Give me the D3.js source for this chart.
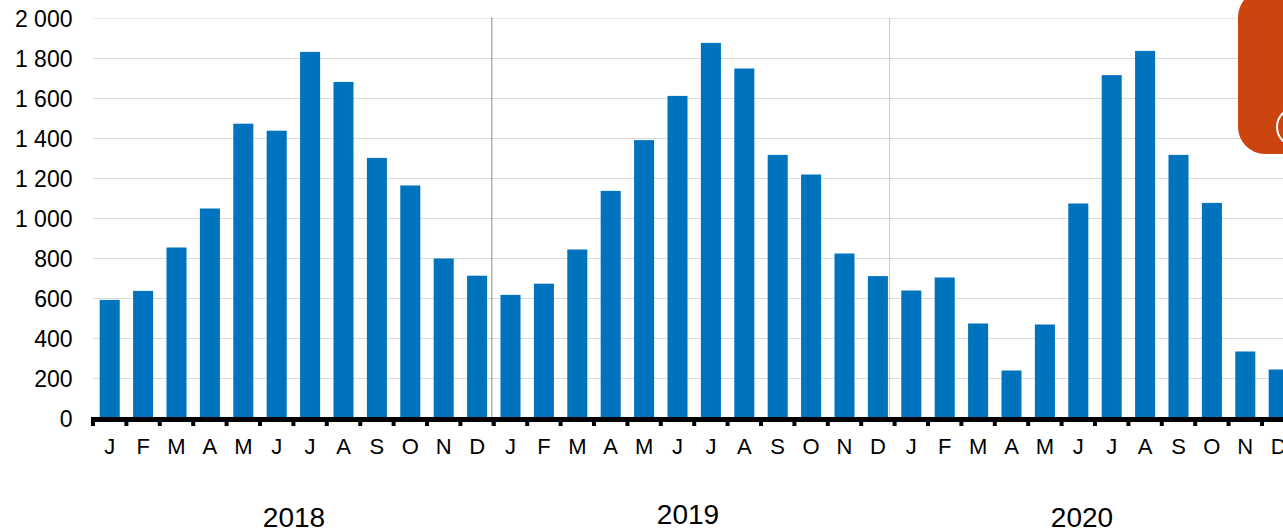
<!DOCTYPE html>
<html>
<head>
<meta charset="utf-8">
<script src="https://d3js.org/d3.v7.min.js"></script>
<style>
html, body { margin: 0; padding: 0; background: white; overflow: hidden; }
svg { display: block; }
text { font-family: "Liberation Sans", Arial, sans-serif; fill: #000; }
</style>
</head>
<body>
<svg id="chart" width="1283" height="529"></svg>
<script>
// values
const months = ["J","F","M","A","M","J","J","A","S","O","N","D",
                "J","F","M","A","M","J","J","A","S","O","N","D",
                "J","F","M","A","M","J","J","A","S","O","N","D"];
const values = [593,638,855,1050,1474,1439,1833,1683,1303,1165,800,714,
                618,674,845,1138,1392,1613,1878,1750,1318,1220,825,712,
                640,705,475,240,470,1075,1717,1838,1318,1078,335,245];
const years = ["2018","2019","2020"];
const yTicks = [0,200,400,600,800,1000,1200,1400,1600,1800,2000];

const svg = d3.select("#chart");
const plotLeft = 93, plotBottom = 418.5, plotTop = 18.5;

const x = d3.scaleBand().domain(d3.range(36)).range([plotLeft, plotLeft + 36 * 33.4])
    .paddingInner(0.4).paddingOuter(0.2);
const y = d3.scaleLinear().domain([0, 2000]).range([plotBottom, plotTop]);
const edge = i => x(i) - x.step() * x.paddingOuter();

// gridlines
svg.append("g").selectAll("line")
    .data(yTicks.slice(1))
    .enter().append("line")
    .attr("x1", plotLeft).attr("x2", 1283)
    .attr("y1", d => y(d)).attr("y2", d => y(d))
    .attr("stroke", d => d == 2000 ? "#e8e8e8" : "#d9d9d9")
    .attr("stroke-width", 1);

// bars
svg.append("g").selectAll("rect")
    .data(values)
    .enter().append("rect")
    .attr("x", (d, i) => x(i))
    .attr("y", d => y(d))
    .attr("width", x.bandwidth())
    .attr("height", d => plotBottom - y(d))
    .attr("fill", "#0073bf");

// year separators, they drift left of the month ticks in the original
svg.append("g").selectAll("line")
    .data([12, 24])
    .enter().append("line")
    .attr("x1", d => d == 12 ? edge(d) - 2 : edge(d) - 5)
    .attr("x2", d => d == 12 ? edge(d) - 2 : edge(d) - 5)
    .attr("y1", plotTop - 1).attr("y2", 425)
    .attr("stroke", d => d == 12 ? "#8c8c8c" : "#c8c8c8")
    .attr("stroke-width", 1);

// y axis labels
const yAxis = svg.append("g")
    .attr("transform", "translate(72.5,0)")
    .call(d3.axisLeft(y).tickValues(yTicks).tickSize(0).tickPadding(0)
      .tickFormat(d => d3.format(",")(d).replace(",", " ")));
yAxis.select(".domain").remove();
yAxis.selectAll("text").attr("font-size", 23).attr("dy", "0.36em")
    .style("font-family", '"Liberation Sans", Arial, sans-serif').attr("fill", "#000");

// x axis labels
const xAxis = svg.append("g")
    .attr("transform", "translate(0,419)")
    .call(d3.axisBottom(x).tickSize(0).tickPadding(19).tickFormat(i => months[i]));
xAxis.select(".domain").remove();
xAxis.selectAll("text").attr("font-size", 22)
    .style("font-family", '"Liberation Sans", Arial, sans-serif').attr("fill", "#000");

// thick baseline with ticks at month edges
svg.append("line")
    .attr("x1", plotLeft - 2).attr("x2", 1283)
    .attr("y1", 419.5).attr("y2", 419.5)
    .attr("stroke", "#000").attr("stroke-width", 5);
svg.append("g").selectAll("line")
    .data(d3.range(36))
    .enter().append("line")
    .attr("x1", d => edge(d)).attr("x2", d => edge(d))
    .attr("y1", 419).attr("y2", 426)
    .attr("stroke", "#000").attr("stroke-width", 4);

// year labels, sit slightly uneven in the original
svg.append("g").selectAll("text")
    .data(years)
    .enter().append("text")
    .attr("x", (d, i) => [294, 688, 1082][i])
    .attr("y", (d, i) => [527, 524, 527][i])
    .attr("text-anchor", "middle")
    .attr("font-size", 28)
    .text(d => d);

// orange badge cut by the edge
svg.append("rect")
    .attr("x", 1238).attr("y", -10)
    .attr("width", 90).attr("height", 164)
    .attr("rx", 27).attr("ry", 27)
    .attr("fill", "#cc4511");
svg.append("circle")
    .attr("cx", 1296).attr("cy", 127).attr("r", 19)
    .attr("fill", "none").attr("stroke", "white").attr("stroke-width", 2);
</script>
</body>
</html>
